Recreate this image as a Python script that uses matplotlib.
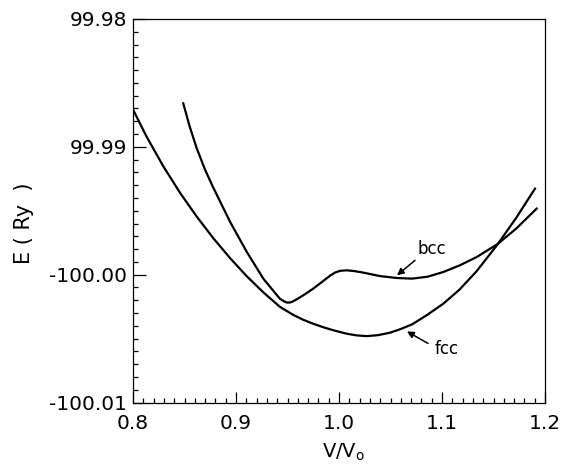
import matplotlib
matplotlib.use("Agg")
import matplotlib.pyplot as plt
from matplotlib.ticker import FixedLocator, FixedFormatter, MultipleLocator

# ---- data ----
fcc_v = [0.8003, 0.8133, 0.8294, 0.8456, 0.8618, 0.8780, 0.8942, 0.9104, 0.9265,
         0.9427, 0.9550, 0.9650, 0.9750, 0.9850, 0.9950, 1.0075, 1.0170, 1.0269,
         1.0380, 1.0495, 1.0600, 1.0709, 1.0850, 1.1013, 1.1170, 1.1337, 1.1537,
         1.1720, 1.1903]
fcc_e = [-99.98713, -99.98922, -99.99152, -99.99359, -99.99545, -99.99715, -99.99870,
         -100.00012, -100.00138, -100.00252, -100.00312, -100.00352, -100.00384,
         -100.00412, -100.00436, -100.00462, -100.00475, -100.00481, -100.00473,
         -100.00454, -100.00425, -100.00389, -100.00318, -100.00227, -100.00117,
         -99.99972, -99.99766, -99.99556, -99.99327]

bcc_v = [0.8488, 0.8550, 0.8618, 0.8700, 0.8780, 0.8942, 0.9104, 0.9265, 0.9427,
         0.9465, 0.9495, 0.9525, 0.9555, 0.9600, 0.9675, 0.9750, 0.9830, 0.9913,
         0.9960, 1.0010, 1.0075, 1.0150, 1.0236, 1.0398, 1.0560, 1.0709, 1.0860,
         1.1013, 1.1170, 1.1337, 1.1537, 1.1720, 1.1919]
bcc_e = [-99.98660, -99.98840, -99.99010, -99.99180, -99.99320, -99.99586, -99.99821,
         -100.00031, -100.00189, -100.00208, -100.00218, -100.00218, -100.00208,
         -100.00188, -100.00150, -100.00109, -100.00060, -100.00008, -99.99984,
         -99.99970, -99.99966, -99.99972, -99.99984, -100.00011, -100.00026,
         -100.00031, -100.00016, -99.99979, -99.99928, -99.99862, -99.99762,
         -99.99640, -99.99483]

y_ticks = [-100.01, -100.00, -99.99, -99.98]
y_labels = ["-100.01", "-100.00", "99.99", "99.98"]
x_ticks = [0.8, 0.9, 1.0, 1.1, 1.2]
x_labels = ["0.8", "0.9", "1.0", "1.1", "1.2"]

plt.rcParams['font.family'] = ['DejaVu Sans']

fig = plt.figure(figsize=(5.62, 4.68), dpi=100)
W, H = 562, 468
ax = fig.add_axes([133 / W, 1 - 402.5 / H, (545 - 133) / W, (402.5 - 19) / H])

ax.plot(fcc_v, fcc_e, color='black', lw=1.6, solid_joinstyle='round')
ax.plot(bcc_v, bcc_e, color='black', lw=1.6, solid_joinstyle='round')

ax.set_xlim(0.8, 1.2)
ax.set_ylim(-100.01, -99.98)

ax.xaxis.set_major_locator(FixedLocator(x_ticks))
ax.xaxis.set_major_formatter(FixedFormatter(x_labels))
ax.xaxis.set_minor_locator(MultipleLocator(0.01))
ax.yaxis.set_major_locator(FixedLocator(y_ticks))
ax.yaxis.set_major_formatter(FixedFormatter(y_labels))
ax.yaxis.set_minor_locator(MultipleLocator(0.001))

ax.tick_params(axis='y', which='major', direction='in', length=9.5, width=0.9,
               labelsize=14.5, pad=4)
ax.tick_params(axis='y', which='minor', direction='in', length=3.6, width=0.9)
ax.tick_params(axis='x', which='major', direction='in', length=7.7, width=0.9,
               labelsize=14.5, pad=8)
ax.tick_params(axis='x', which='minor', direction='in', length=3.6, width=0.9)
ax.tick_params(top=False, right=False, which='both')

for s in ax.spines.values():
    s.set_linewidth(0.9)

ax.set_xlabel("V/V$_{\\mathrm{o}}$", fontsize=14, va='center')
ax.xaxis.set_label_coords((344 - 133) / 412, -(452 - 402.5) / 383.5)
ax.set_ylabel("E ( Ry  )", fontsize=15, va='center')
ax.yaxis.set_label_coords((23.5 - 133) / 412, 1 - (223 - 19) / 383.5)

# annotations
arr = dict(arrowstyle='-|>', color='black', lw=1.1, mutation_scale=10,
           shrinkA=0, shrinkB=0)
ax.annotate('', xy=(1.0563, -100.00005), xytext=(1.0738, -99.99888), arrowprops=arr)
ax.text(1.0903, -99.99802, "bcc", fontsize=12, ha='center', va='center')
ax.annotate('', xy=(1.0660, -100.00444), xytext=(1.0864, -100.00538), arrowprops=arr)
ax.text(1.1049, -100.00585, "fcc", fontsize=12, ha='center', va='center')

fig.savefig("out.png", dpi=100)
